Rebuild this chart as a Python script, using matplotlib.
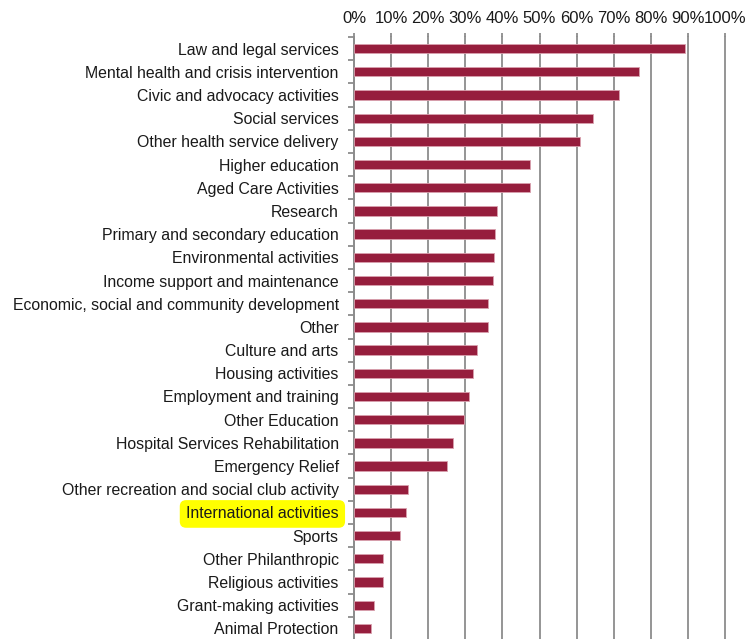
import matplotlib.pyplot as plt
import numpy as np

plt.rcParams['font.family'] = ['Liberation Sans', 'DejaVu Sans']

# Share of organisations by activity (%)
categories = [
    "Law and legal services",
    "Mental health and crisis intervention",
    "Civic and advocacy activities",
    "Social services",
    "Other health service delivery",
    "Higher education",
    "Aged Care Activities",
    "Research",
    "Primary and secondary education",
    "Environmental activities",
    "Income support and maintenance",
    "Economic, social and community development",
    "Other",
    "Culture and arts",
    "Housing activities",
    "Employment and training",
    "Other Education",
    "Hospital Services Rehabilitation",
    "Emergency Relief",
    "Other recreation and social club activity",
    "International activities",
    "Sports",
    "Other Philanthropic",
    "Religious activities",
    "Grant-making activities",
    "Animal Protection",
]
values = [89.3, 76.9, 71.3, 64.5, 61.0, 47.5, 47.5, 38.5, 38.1, 37.7, 37.5,
          36.2, 36.0, 33.1, 32.1, 31.1, 29.6, 26.6, 25.0, 14.6, 14.1, 12.4,
          7.8, 7.7, 5.4, 4.7]
xticks = list(range(0, 101, 10))
xtick_labels = [f"{t}%" for t in xticks]
highlight = "International activities"

fig = plt.figure(figsize=(7.48, 6.39), dpi=100)
ax = fig.add_axes([354 / 748, -1 / 639, 371 / 748, 603 / 639])

y = np.arange(len(categories))
ax.barh(y, values, height=0.4, color='#961E3D', edgecolor='#D9A0AE', linewidth=0.6, zorder=3)

ax.set_xlim(0, 100)
ax.set_ylim(len(categories) - 0.5, -0.5)

ax.xaxis.tick_top()
ax.set_xticks(xticks)
ax.set_xticklabels(xtick_labels, fontsize=12, color='#1A1A1A')
ax.tick_params(axis='x', direction='out', length=3, width=1.3, color='#8C8C8C', pad=5)
ax.grid(axis='x', color='#8C8C8C', linewidth=1.3, zorder=0)
for gl in ax.get_xgridlines():
    gl.set_clip_on(False)

ax.set_yticks(y)
ax.set_yticklabels(categories, fontsize=11.4, color='#1A1A1A')
ax.tick_params(axis='y', which='major', length=0, pad=11)
ax.set_yticks(np.arange(len(categories) + 1) - 0.5, minor=True)
ax.tick_params(axis='y', which='minor', direction='out', length=4, width=1.3, color='#8C8C8C')

for side in ['top', 'right', 'bottom']:
    ax.spines[side].set_visible(False)
ax.spines['left'].set_color('#8C8C8C')
ax.spines['left'].set_linewidth(1.3)

for lbl in ax.get_yticklabels():
    if lbl.get_text() == highlight:
        lbl.set_bbox(dict(facecolor='#FFFF00', edgecolor='none', boxstyle='round,pad=0.4'))

plt.savefig('out.png', dpi=100)
